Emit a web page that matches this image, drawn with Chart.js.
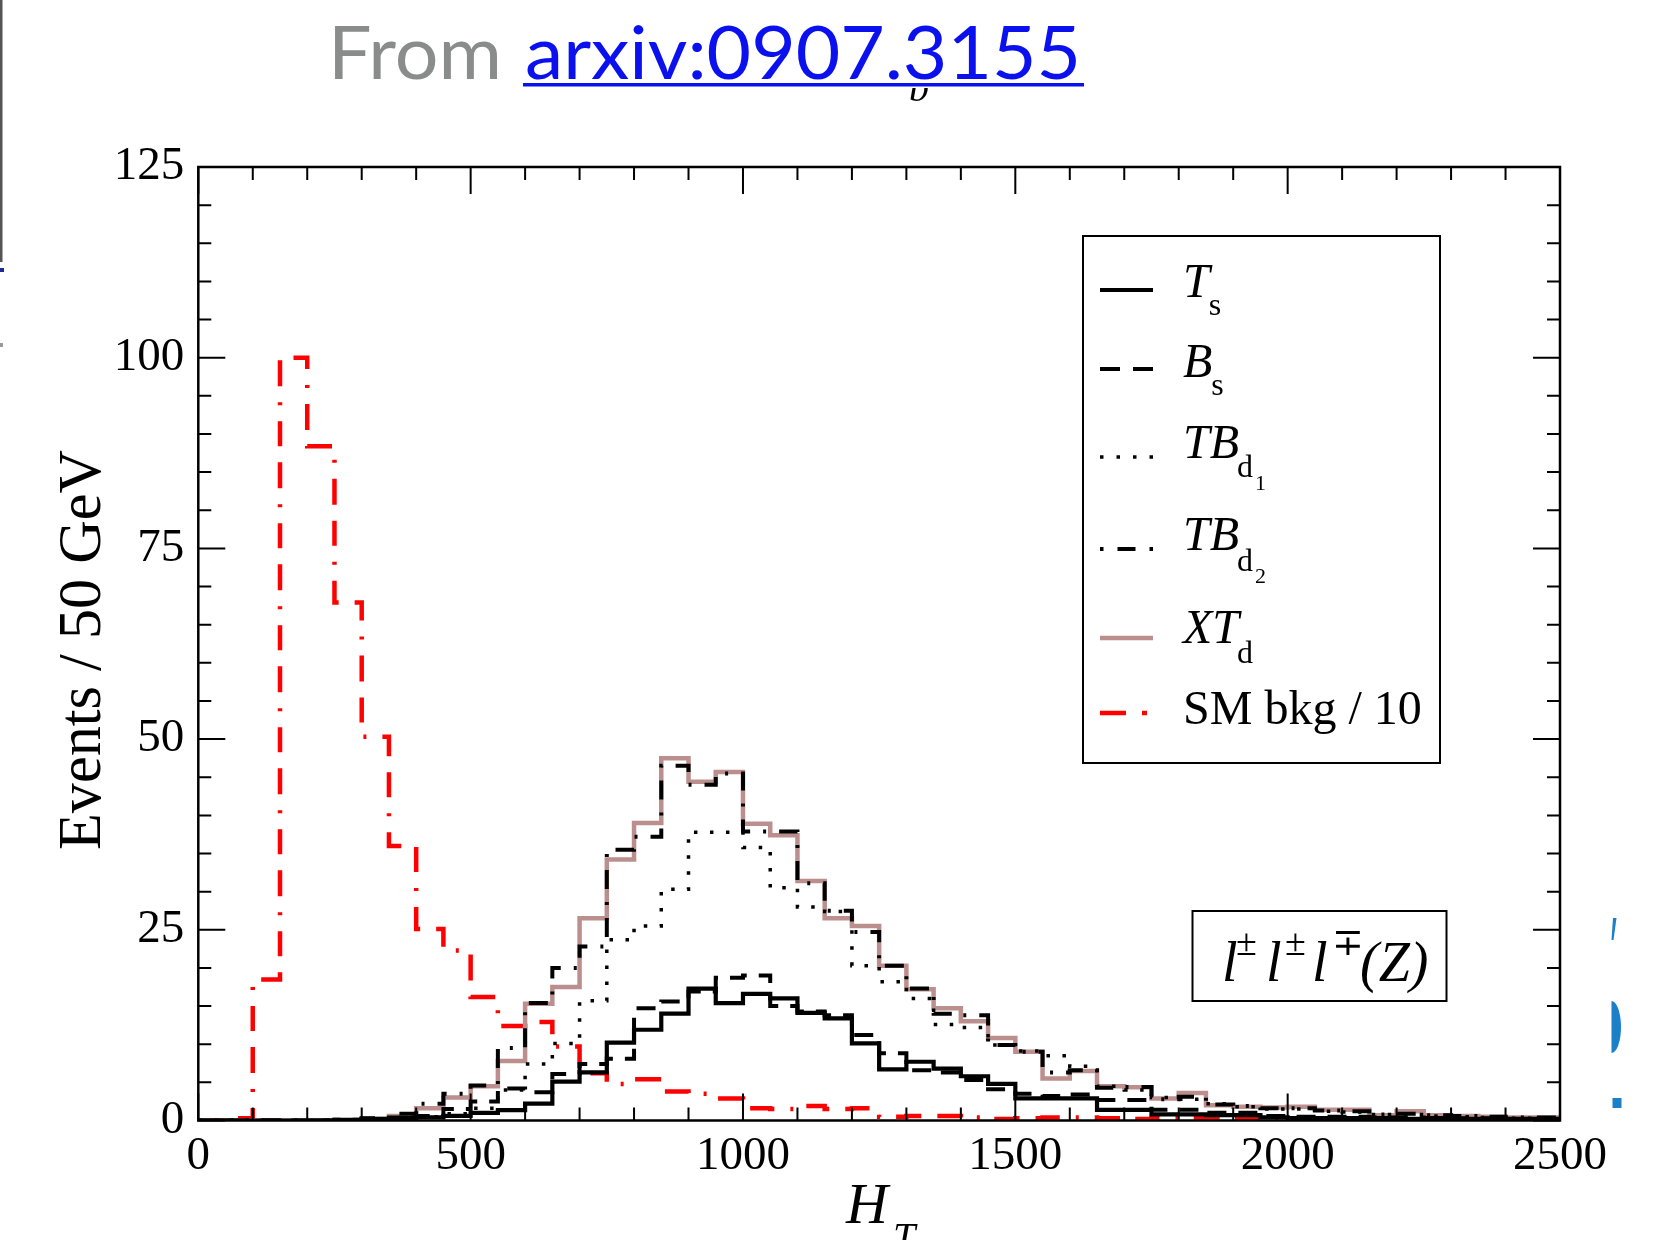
<!DOCTYPE html>
<html><head><meta charset="utf-8">
<script src="https://cdn.jsdelivr.net/npm/chart.js@4.4.1/dist/chart.umd.min.js"></script>
<style>html,body{margin:0;padding:0;background:#fff;overflow:hidden}canvas{display:block}</style>
</head><body><canvas id="c" width="1665" height="1240"></canvas>
<script>
// ---- data (H_T bins of 50 GeV, 0..2500) ----
const binEdges = [0,50,100,150,200,250,300,350,400,450,500,550,600,650,700,750,800,850,900,950,1000,1050,1100,1150,1200,1250,1300,1350,1400,1450,1500,1550,1600,1650,1700,1750,1800,1850,1900,1950,2000,2050,2100,2150,2200,2250,2300,2350,2400,2450,2500];
const smBkg = [0,0.3,18.5,100,88.4,67.9,50.3,36.0,25.1,22.3, 16.2,12.4,12.9,9.7,6.2,4.8,5.4,3.8,3.5,2.9, 1.6,1.5,1.9,1.5,1.6,0.5,0.6,0.6,0.4,0.2, 0.3,0.4,0.4,0.3,0.2,0.3,0.4,0.4,0.3,0.4, 0.3,0.3,0.2,0.2,0.1,0.2,0.1,0.1,0.1,0.2];
const xtd = [0,0,0,0,0,0,0.2,0.6,1.6,3.0, 4.5,7.8,15.3,17.5,26.5,34.2,39.0,47.5,44.4,45.7, 38.9,37.4,31.4,26.5,25.5,20.3,17.2,14.7,13.0,10.8, 9.0,5.5,6.5,4.5,4.35,2.9,3.6,2.0,1.8,1.7, 1.8,1.4,1.4,0.7,1.2,0.7,0.6,0.5,0.4,0.4];
const tbd2 = [0,0,0,0,0,0,0.3,0.9,2.2,3.5, 4.6,9.5,15.4,20.0,22.8,35.5,37.2,46.5,44.0,45.5, 37.9,37.9,31.1,27.5,24.7,20.3,17.3,14.0,13.8,9.9, 9.0,6.3,6.6,4.3,4.4,2.8,3.1,2.1,1.9,1.6, 1.6,1.3,1.2,0.8,0.9,0.7,0.6,0.5,0.4,0.4];
const tbd1 = [0,0,0,0,0,0,0.1,0.2,0.5,0.9, 1.6,4.0,7.4,10.1,15.7,23.7,25.5,30.3,37.8,37.8, 35.8,30.5,28.0,27.4,20.3,18.2,16.0,12.6,12.2,9.9, 9.1,8.5,7.1,4.5,4.0,3.0,2.8,2.2,1.8,1.5, 1.5,1.2,1.1,0.8,0.8,0.6,0.5,0.4,0.3,0.3];
const ts = [0,0,0,0,0,0.1,0.2,0.3,0.4,0.6, 1.0,1.35,2.2,5.1,6.3,10.2,11.9,14.0,17.3,15.4, 16.6,16.0,14.1,13.4,10.1,6.7,7.7,6.8,5.8,4.8, 2.9,2.9,2.9,1.4,1.4,0.8,0.8,0.7,0.7,0.4, 0.3,0.3,0.3,0.3,0.2,0.3,0.2,0.2,0.2,0.2];
const bs = [0,0,0,0,0,0.1,0.2,0.4,0.6,1.5, 2.5,4.2,3.7,6.1,7.4,8.1,14.7,15.6,16.9,18.7, 19.0,15.0,14.3,13.8,11.2,8.8,6.6,6.3,5.3,4.1, 3.5,3.2,3.4,2.7,2.7,1.4,1.4,1.0,1.0,0.6, 0.5,0.5,0.5,0.4,0.4,0.3,0.3,0.3,0.2,0.2];
const xTickValues = [0,500,1000,1500,2000,2500];
const xTickLabels = ['0','500','1000','1500','2000','2500'];
const yTickValues = [0,25,50,75,100,125];
const yTickLabels = ['0','25','50','75','100','125'];
const seriesNames = ['T','B','TB','TB','XT','SM bkg / 10'];

const SERIF = '"Liberation Serif","DejaVu Serif",serif';

function stepPoints(vals){
  const pts=[];
  for(let i=0;i<vals.length;i++){
    pts.push({x:binEdges[i],y:vals[i]});
    pts.push({x:binEdges[i+1],y:vals[i]});
  }
  return pts;
}

const common = {pointRadius:0, fill:false, tension:0, borderCapStyle:'butt', borderJoinStyle:'miter', spanGaps:true};
const datasets = [
  Object.assign({label:'SM bkg / 10', data:stepPoints(smBkg), borderColor:'#ff0000', borderWidth:4.5, borderDash:[26,16,25,16,3,16], order:6}, common),
  Object.assign({label:'XTd', data:stepPoints(xtd), borderColor:'#bc8f8f', borderWidth:4.5, order:5}, common),
  Object.assign({label:'TBd1', data:stepPoints(tbd1), borderColor:'#000', borderWidth:3.5, borderDash:[3.5,12.5], order:4}, common),
  Object.assign({label:'Ts', data:stepPoints(ts), borderColor:'#000', borderWidth:4.2, order:3}, common),
  Object.assign({label:'Bs', data:stepPoints(bs), borderColor:'#000', borderWidth:4, borderDash:[19,12], order:2}, common),
  Object.assign({label:'TBd2', data:stepPoints(tbd2), borderColor:'#000', borderWidth:4, borderDash:[3,13,19,13], order:1}, common)
];

function txt(ctx, s, x, y, font, color, align){
  ctx.font = font; ctx.fillStyle = color||'#000'; ctx.textAlign = align||'left'; ctx.textBaseline='alphabetic';
  ctx.fillText(s, x, y);
}

const deco = {
  id:'deco',
  afterDraw(chart){
    const ctx = chart.ctx, a = chart.chartArea, xs = chart.scales.x, ys = chart.scales.y;
    ctx.save();
    // frame
    ctx.strokeStyle='#000'; ctx.lineWidth=2.5; ctx.setLineDash([]);
    ctx.strokeRect(a.left, a.top, a.right-a.left, a.bottom-a.top);
    // inside ticks on all sides
    ctx.lineWidth=2;
    ctx.beginPath();
    for(let v=0; v<=2500; v+=100){
      const px = xs.getPixelForValue(v), L = (v%500===0)?27:13;
      ctx.moveTo(px, a.bottom); ctx.lineTo(px, a.bottom-L);
      ctx.moveTo(px, a.top); ctx.lineTo(px, a.top+L);
    }
    for(let v=0; v<=125; v+=5){
      const py = ys.getPixelForValue(v), L = (v%25===0)?27:13;
      ctx.moveTo(a.left, py); ctx.lineTo(a.left+L, py);
      ctx.moveTo(a.right, py); ctx.lineTo(a.right-L, py);
    }
    ctx.stroke();

    // legend box
    ctx.lineWidth=2; ctx.strokeStyle='#000';
    ctx.strokeRect(1083, 236, 357, 527);
    const samples = [
      {y:290, color:'#000', w:4, dash:[]},
      {y:369, color:'#000', w:4, dash:[20,13,20,100]},
      {y:457, color:'#000', w:3.5, dash:[3.5,13]},
      {y:549, color:'#000', w:4, dash:[3.5,14,18,14,3.5,100]},
      {y:638, color:'#bc8f8f', w:4.5, dash:[]},
      {y:713, color:'#ff0000', w:4.5, dash:[26,16,5,100]}
    ];
    samples.forEach(s=>{
      ctx.beginPath(); ctx.strokeStyle=s.color; ctx.lineWidth=s.w; ctx.setLineDash(s.dash); ctx.lineCap='butt';
      ctx.moveTo(1100, s.y); ctx.lineTo(1153, s.y); ctx.stroke();
    });
    ctx.setLineDash([]);
    const IT = 'italic 48px '+SERIF, SUB='32px '+SERIF, SUB2='22px '+SERIF;
    const lx = 1183;
    txt(ctx, seriesNames[0], lx, 297, IT);
    ctx.font=IT; let w=ctx.measureText(seriesNames[0]).width;
    txt(ctx, 's', lx+w-1, 315, SUB);
    txt(ctx, seriesNames[1], lx, 377, IT);
    ctx.font=IT; w=ctx.measureText(seriesNames[1]).width;
    txt(ctx, 's', lx+w-1, 395, SUB);
    txt(ctx, seriesNames[2], lx, 458, IT);
    ctx.font=IT; w=ctx.measureText(seriesNames[2]).width;
    txt(ctx, 'd', lx+w-2, 477, SUB);
    txt(ctx, '1', lx+w+16, 490, SUB2);
    txt(ctx, seriesNames[3], lx, 550, IT);
    ctx.font=IT; w=ctx.measureText(seriesNames[3]).width;
    txt(ctx, 'd', lx+w-2, 571, SUB);
    txt(ctx, '2', lx+w+16, 583, SUB2);
    txt(ctx, seriesNames[4], lx, 643, IT);
    ctx.font=IT; w=ctx.measureText(seriesNames[4]).width;
    txt(ctx, 'd', lx+w-2, 663, SUB);
    txt(ctx, seriesNames[5], lx, 724, '48px '+SERIF);

    // channel box
    ctx.lineWidth=2; ctx.strokeStyle='#000';
    ctx.strokeRect(1192.5, 911, 254, 90);
    const LI='italic 56px '+SERIF, SUP='38px '+SERIF;
    txt(ctx,'l',1222,981,LI); txt(ctx,'\u00B1',1236,955,SUP);
    txt(ctx,'l',1266,981,LI); txt(ctx,'\u00B1',1285,955,SUP);
    txt(ctx,'l',1312,981,LI); txt(ctx,'\u2213',1332,955,SUP);
    txt(ctx,'(Z)',1360,981,LI);

    // axis titles
    ctx.save();
    ctx.translate(100, 650); ctx.rotate(-Math.PI/2);
    ctx.font='62px '+SERIF;
    const yt='Events / 50 GeV'; const yw=ctx.measureText(yt).width;
    ctx.scale(400/yw,1);
    ctx.fillStyle='#000'; ctx.textAlign='center'; ctx.textBaseline='alphabetic';
    ctx.fillText(yt,0,0);
    ctx.restore();
    txt(ctx,'H',846,1223,'italic 58px '+SERIF);
    txt(ctx,'T',893,1250,'italic 40px '+SERIF);

    // page title
    ctx.save();
    ctx.font='74px Lato, "Open Sans", sans-serif'; ctx.textBaseline='alphabetic'; ctx.textAlign='left';
    let fw=ctx.measureText('From').width;
    ctx.save(); ctx.translate(328,79); ctx.scale(174/fw,1); ctx.fillStyle='#8a8c8c'; ctx.fillText('From',0,0); ctx.restore();
    let lw=ctx.measureText('arxiv:0907.3155').width;
    ctx.save(); ctx.translate(525,79); ctx.scale(556/lw,1); ctx.fillStyle='#0a10ee'; ctx.fillText('arxiv:0907.3155',0,0); ctx.restore();
    ctx.fillStyle='#0a10ee'; ctx.fillRect(523,83,561,3.5);
    ctx.restore();
    ctx.save(); ctx.beginPath(); ctx.rect(880,88,80,30); ctx.clip();
    txt(ctx,'b',909,101,'italic 40px '+SERIF); ctx.restore();

    // left edge remnants
    ctx.fillStyle='#555'; ctx.fillRect(0,0,2.5,262);
    ctx.fillStyle='#1a2a9a'; ctx.fillRect(0,268,4,4);
    ctx.fillStyle='#999'; ctx.fillRect(0,343,3,4);
    // right edge remnants (blue)
    ctx.fillStyle='#1b80c8';
    ctx.beginPath(); ctx.moveTo(1613,918); ctx.lineTo(1616.5,918); ctx.lineTo(1613.5,940); ctx.lineTo(1611.5,940); ctx.closePath(); ctx.fill();
    ctx.beginPath(); ctx.ellipse(1611.5,1027,9.5,26,0,-Math.PI/2,Math.PI/2); ctx.closePath(); ctx.fill();
    ctx.fillRect(1612.5,1098,9,10);
    ctx.restore();
  }
};

new Chart(document.getElementById('c'), {
  type:'line',
  data:{datasets},
  options:{
    responsive:false, animation:false, devicePixelRatio:1,
    layout:{padding:{left:0, top:167, right:105, bottom:0}},
    plugins:{legend:{display:false}, tooltip:{enabled:false}, title:{display:false}},
    scales:{
      x:{type:'linear', min:0, max:2500,
        grid:{display:false, drawTicks:false}, border:{display:false},
        ticks:{stepSize:500, autoSkip:false, maxRotation:0, padding:8, color:'#000',
          font:{family:SERIF, size:47},
          callback:(v)=>{const i=xTickValues.indexOf(v); return i>=0?xTickLabels[i]:'';}},
        afterFit:(s)=>{ s.height = 119.5; }
      },
      y:{type:'linear', min:0, max:125,
        grid:{display:false, drawTicks:false}, border:{display:false},
        ticks:{stepSize:25, autoSkip:false, padding:14, color:'#000',
          font:{family:SERIF, size:47},
          callback:(v)=>{const i=yTickValues.indexOf(v); return i>=0?yTickLabels[i]:'';}},
        afterFit:(s)=>{ s.width = 198.3; }
      }
    }
  },
  plugins:[deco]
});
</script></body></html>
